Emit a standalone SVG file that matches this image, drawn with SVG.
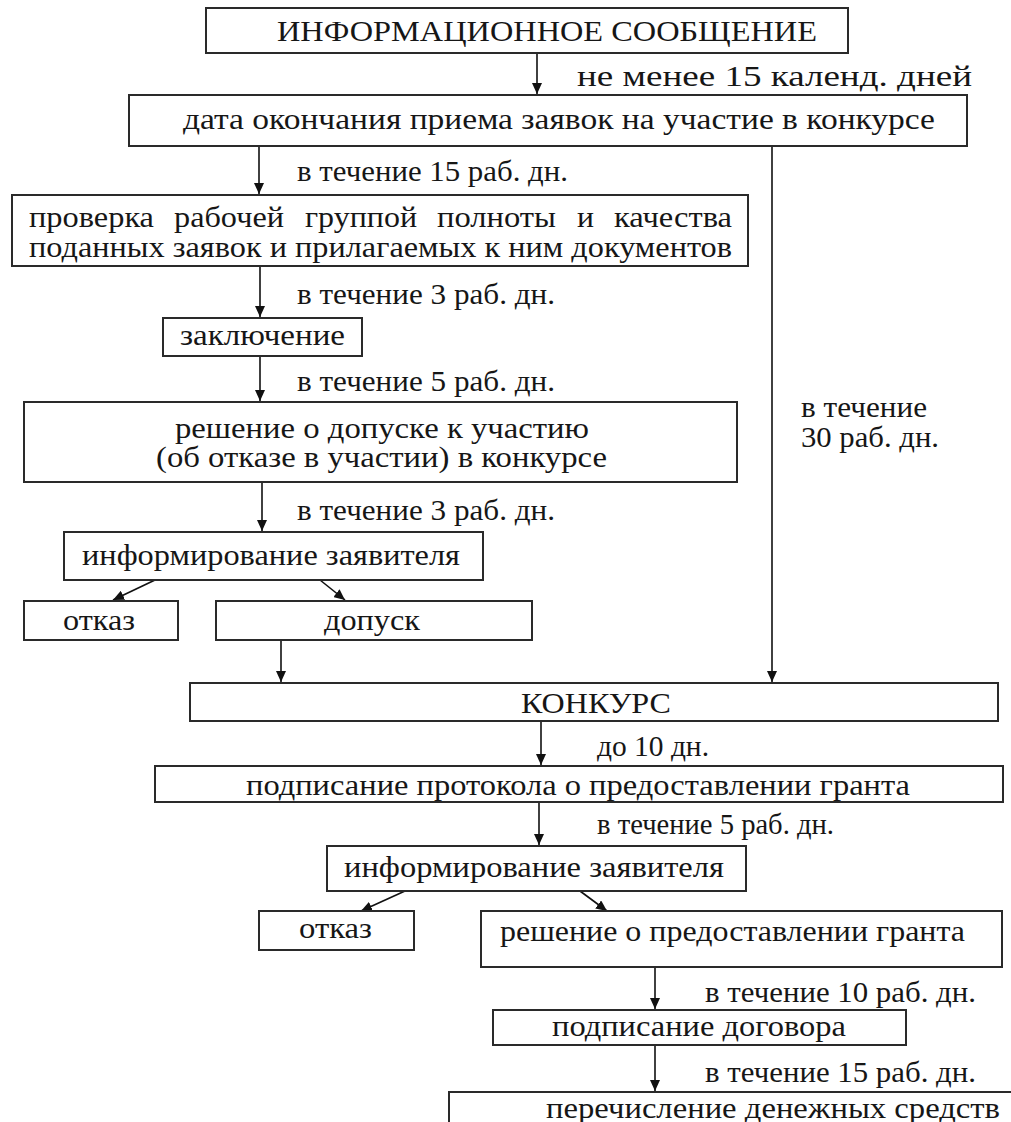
<svg xmlns="http://www.w3.org/2000/svg" width="1011" height="1122" viewBox="0 0 1011 1122">
<defs>
<marker id="ah" markerUnits="userSpaceOnUse" markerWidth="12" markerHeight="10" refX="11" refY="5" orient="auto">
<path d="M0,0 L11,5 L0,10 z" fill="#111"/>
</marker>
<style>
.box{fill:#fff;stroke:#2a2a2a;stroke-width:2}
svg text{font-family:'Liberation Serif','DejaVu Serif','Times New Roman',Times,serif;font-size:29px;fill:#161616}
.ln{stroke:#111;stroke-width:1.6;fill:none;marker-end:url(#ah)}
</style>
</defs>
<rect width="1011" height="1122" fill="#fff"/>
<g id="connectors">
<line class="ln" x1="537" y1="53" x2="537" y2="94"/>
<line class="ln" x1="259" y1="146" x2="259" y2="194"/>
<line class="ln" x1="772" y1="146" x2="772" y2="682"/>
<line class="ln" x1="260" y1="266" x2="260" y2="317"/>
<line class="ln" x1="260" y1="356" x2="260" y2="401"/>
<line class="ln" x1="262" y1="482" x2="262" y2="531"/>
<line class="ln" x1="155" y1="580" x2="113" y2="600"/>
<line class="ln" x1="320" y1="580" x2="345" y2="600"/>
<line class="ln" x1="281" y1="640" x2="281" y2="682"/>
<line class="ln" x1="541" y1="721" x2="541" y2="765"/>
<line class="ln" x1="539" y1="802" x2="539" y2="845"/>
<line class="ln" x1="405" y1="891" x2="361" y2="911"/>
<line class="ln" x1="580" y1="891" x2="607" y2="911"/>
<line class="ln" x1="655" y1="967" x2="655" y2="1009"/>
<line class="ln" x1="655" y1="1045" x2="655" y2="1091"/>
<text x="577" y="86" textLength="395" lengthAdjust="spacingAndGlyphs">не менее 15 календ. дней</text>
<text x="297" y="181" textLength="271" lengthAdjust="spacingAndGlyphs">в течение 15 раб. дн.</text>
<text x="297" y="304" textLength="258" lengthAdjust="spacingAndGlyphs">в течение 3 раб. дн.</text>
<text x="297" y="391" textLength="258" lengthAdjust="spacingAndGlyphs">в течение 5 раб. дн.</text>
<text x="297" y="520" textLength="258" lengthAdjust="spacingAndGlyphs">в течение 3 раб. дн.</text>
<text x="801" y="417" textLength="126" lengthAdjust="spacingAndGlyphs">в течение</text>
<text x="801" y="447" textLength="138" lengthAdjust="spacingAndGlyphs">30 раб. дн.</text>
<text x="597" y="756" textLength="112" lengthAdjust="spacingAndGlyphs">до 10 дн.</text>
<text x="597" y="834" textLength="237" lengthAdjust="spacingAndGlyphs">в течение 5 раб. дн.</text>
<text x="705" y="1002" textLength="271" lengthAdjust="spacingAndGlyphs">в течение 10 раб. дн.</text>
<text x="705" y="1082" textLength="271" lengthAdjust="spacingAndGlyphs">в течение 15 раб. дн.</text>
</g>
<g id="n1"><rect class="box" x="206" y="8" width="642" height="45"/><text x="277" y="41" textLength="540" lengthAdjust="spacingAndGlyphs">ИНФОРМАЦИОННОЕ СООБЩЕНИЕ</text></g>
<g id="n2"><rect class="box" x="129" y="95" width="838" height="51"/><text x="183" y="129" textLength="752" lengthAdjust="spacingAndGlyphs">дата окончания приема заявок на участие в конкурсе</text></g>
<g id="n3"><rect class="box" x="12" y="195" width="736" height="71"/>
<text y="227"><tspan x="29" textLength="125" lengthAdjust="spacingAndGlyphs">проверка</tspan><tspan x="174" textLength="110" lengthAdjust="spacingAndGlyphs">рабочей</tspan><tspan x="305" textLength="112" lengthAdjust="spacingAndGlyphs">группой</tspan><tspan x="437" textLength="119" lengthAdjust="spacingAndGlyphs">полноты</tspan><tspan x="577" textLength="17" lengthAdjust="spacingAndGlyphs">и</tspan><tspan x="614" textLength="118" lengthAdjust="spacingAndGlyphs">качества</tspan></text>
<text x="29" y="257" textLength="703" lengthAdjust="spacingAndGlyphs">поданных заявок и прилагаемых к ним документов</text></g>
<g id="n4"><rect class="box" x="163" y="318" width="199" height="38"/><text x="180" y="345" textLength="165" lengthAdjust="spacingAndGlyphs">заключение</text></g>
<g id="n5"><rect class="box" x="24" y="402" width="713" height="80"/><text x="175" y="438" textLength="414" lengthAdjust="spacingAndGlyphs">решение о допуске к участию</text><text x="156" y="467" textLength="451" lengthAdjust="spacingAndGlyphs">(об отказе в участии) в конкурсе</text></g>
<g id="n6"><rect class="box" x="64" y="532" width="419" height="48"/><text x="82" y="565" textLength="378" lengthAdjust="spacingAndGlyphs">информирование заявителя</text></g>
<g id="n7"><rect class="box" x="24" y="601" width="154" height="39"/><text x="63" y="630" textLength="72" lengthAdjust="spacingAndGlyphs">отказ</text></g>
<g id="n8"><rect class="box" x="216" y="601" width="316" height="39"/><text x="324" y="630" textLength="96" lengthAdjust="spacingAndGlyphs">допуск</text></g>
<g id="n9"><rect class="box" x="190" y="683" width="808" height="38"/><text x="521" y="713" textLength="150" lengthAdjust="spacingAndGlyphs">КОНКУРС</text></g>
<g id="n10"><rect class="box" x="155" y="766" width="848" height="36"/><text x="246" y="795" textLength="664" lengthAdjust="spacingAndGlyphs">подписание протокола о предоставлении гранта</text></g>
<g id="n11"><rect class="box" x="327" y="846" width="419" height="45"/><text x="344" y="877" textLength="380" lengthAdjust="spacingAndGlyphs">информирование заявителя</text></g>
<g id="n12"><rect class="box" x="259" y="911" width="155" height="39"/><text x="299" y="938" textLength="73" lengthAdjust="spacingAndGlyphs">отказ</text></g>
<g id="n13"><rect class="box" x="481" y="911" width="521" height="56"/><text x="500" y="941" textLength="465" lengthAdjust="spacingAndGlyphs">решение о предоставлении гранта</text></g>
<g id="n14"><rect class="box" x="493" y="1010" width="413" height="35"/><text x="552" y="1036" textLength="294" lengthAdjust="spacingAndGlyphs">подписание договора</text></g>
<g id="n15"><rect class="box" x="449" y="1092" width="580" height="60"/><text x="546" y="1118" textLength="454" lengthAdjust="spacingAndGlyphs">перечисление денежных средств</text></g>
</svg>
